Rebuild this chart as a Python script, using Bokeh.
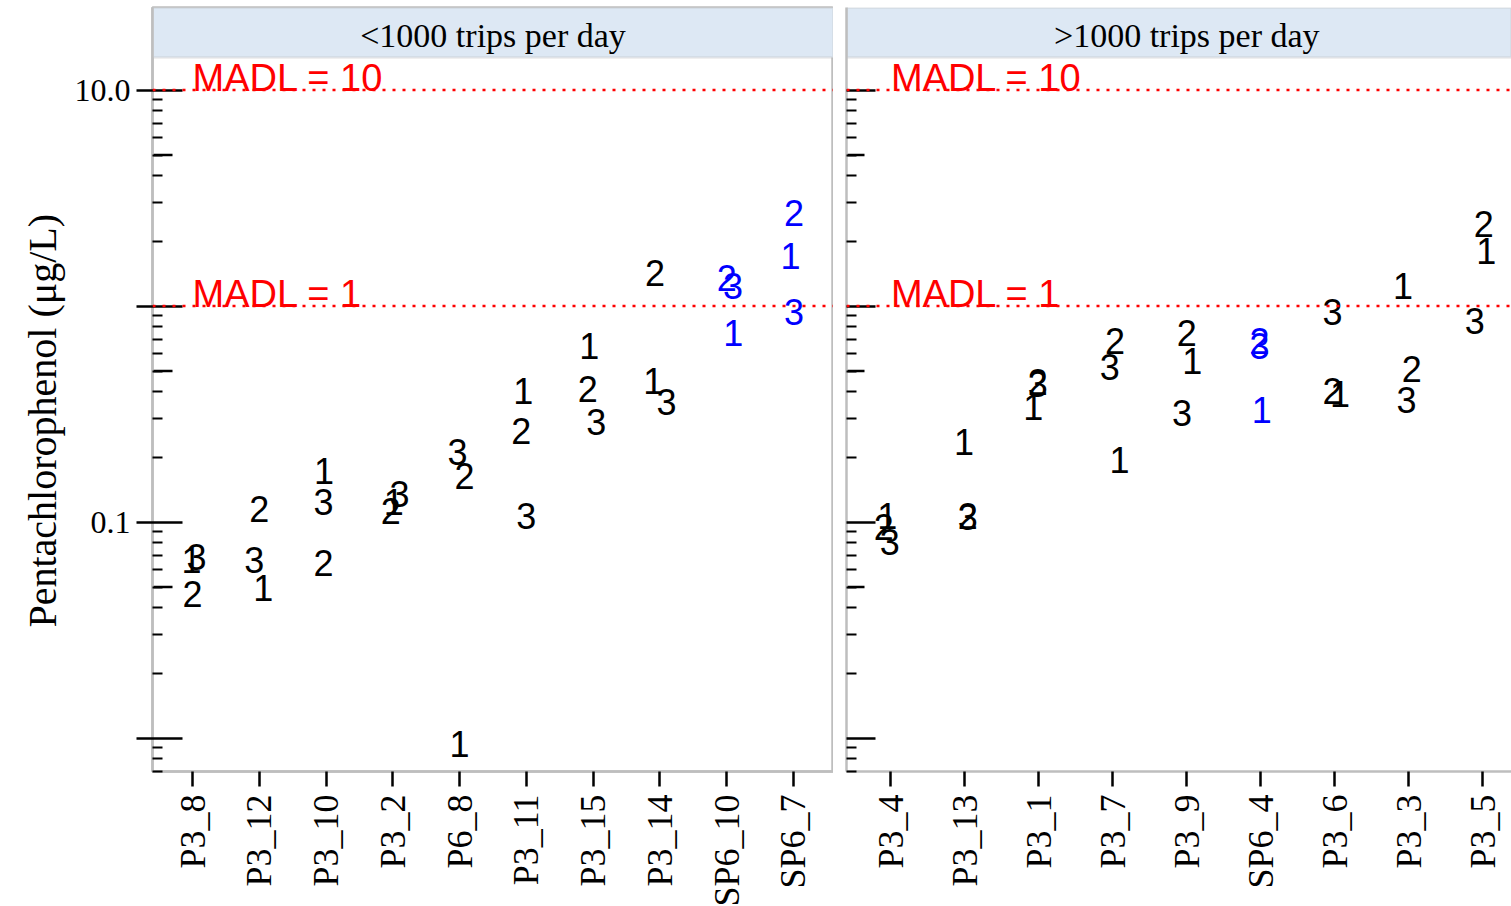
import math

from bokeh.core.properties import value
from bokeh.embed import file_html
from bokeh.layouts import row
from bokeh.models import BoxAnnotation, ColumnDataSource, FixedTicker, Range1d, Span, Title
from bokeh.plotting import figure
from bokeh.resources import INLINE

# Pentachlorophenol in runoff, three replicate samples per site (labelled 1, 2, 3)
strip_low = "<1000 trips per day"
strip_high = ">1000 trips per day"
y_title = "Pentachlorophenol (\u03bcg/L)"

samples_low = ["P3_8", "P3_12", "P3_10", "P3_2", "P6_8", "P3_11", "P3_15", "P3_14", "SP6_10", "SP6_7"]
rep1_low = [0.066, 0.049, 0.171, 0.122, 0.0093, 0.402, 0.649, 0.447, 0.746, 1.69]
rep2_low = [0.046, 0.114, 0.064, 0.111, 0.161, 0.262, 0.410, 1.40, 1.33, 2.68]
rep3_low = [0.068, 0.066, 0.122, 0.133, 0.208, 0.105, 0.286, 0.357, 1.22, 0.933]
jit1_low = [-0.015, 0.06, -0.03, 0.015, 0.0, -0.045, -0.06, -0.10, 0.10, -0.045]
jit2_low = [0.0, 0.0, -0.04, -0.03, 0.075, -0.075, -0.08, -0.075, 0.0, 0.01]
jit3_low = [0.06, -0.075, -0.04, 0.10, -0.03, 0.0, 0.045, 0.10, 0.095, 0.01]

samples_high = ["P3_4", "P3_13", "P3_1", "P3_7", "P3_9", "SP6_4", "P3_6", "P3_3", "P3_5"]
rep1_high = [0.106, 0.233, 0.339, 0.191, 0.548, 0.328, 0.389, 1.22, 1.77]
rep2_high = [0.094, 0.106, 0.44, 0.678, 0.746, 0.685, 0.398, 0.503, 2.36]
rep3_high = [0.080, 0.104, 0.43, 0.519, 0.318, 0.643, 0.933, 0.365, 0.839]
jit1_high = [-0.05, -0.01, -0.075, 0.09, 0.075, 0.015, 0.07, -0.075, 0.05]
jit2_high = [-0.095, 0.04, -0.015, 0.03, 0.0, -0.015, -0.03, 0.04, 0.015]
jit3_high = [-0.015, 0.04, -0.015, -0.04, -0.065, -0.015, -0.03, -0.03, -0.105]

highlight = ["SP6_10", "SP6_7", "SP6_4"]
madl_levels = [10, 1]

Y_LO, Y_HI = 0.0070, 24.1          # full frame, strip included
STRIP_BOTTOM = 14.14               # top of the data panel
GRAY = "#bebebe"
STRIP_FILL = "#dde8f4"
SERIF = "Liberation Serif"
SANS = "Liberation Sans"

decade_ticks = [0.01, 0.1, 1, 10]
minor_ticks = [m * d for d in (0.001, 0.01, 0.1, 1) for m in range(2, 10) if Y_LO <= m * d <= 10]
mid_ticks = [5 * d for d in (0.001, 0.01, 0.1, 1) if Y_LO <= 5 * d <= 10]


def panel(strip, samples, reps, jits, x_end, frame_width, border_left, first):
    n = len(samples)
    p = figure(
        y_axis_type="log",
        x_range=Range1d(-0.6, x_end),
        y_range=Range1d(Y_LO, Y_HI),
        frame_width=frame_width,
        frame_height=764,
        min_border_left=border_left,
        min_border_right=0,
        min_border_top=7,
        min_border_bottom=135,
        toolbar_location=None,
        output_backend="svg",
        background_fill_color="white",
        border_fill_color="white",
    )
    p.grid.grid_line_color = None
    if first:
        p.outline_line_color = GRAY
        p.outline_line_width = 2.5
        p.outline_line_alpha = 1.0
    else:
        p.outline_line_color = None

    # strip header
    p.add_layout(BoxAnnotation(bottom=STRIP_BOTTOM, fill_color=STRIP_FILL, fill_alpha=1.0,
                               line_color=GRAY, line_width=2.5, level="underlay"))
    p.text(x=[(n - 1) / 2], y=[math.sqrt(STRIP_BOTTOM * Y_HI)], text=[strip],
           text_font=value(SERIF), text_font_size="34px", text_color="black",
           text_align="center", text_baseline="middle", y_offset=3)

    # MADL reference lines
    for lvl in madl_levels:
        p.add_layout(Span(location=lvl, dimension="width", line_color="red",
                          line_width=2.5, line_dash="3 7"))
    p.text(x=[0] * len(madl_levels), y=madl_levels,
           text=[f"MADL = {v}" for v in madl_levels],
           text_font=value(SANS), text_font_size="38px", text_color="red",
           text_align="left", text_baseline="middle", y_offset=-12)

    # replicate numbers
    colors = ["#0000ff" if s in highlight else "#000000" for s in samples]
    for r, (vals, jit) in enumerate(zip(reps, jits), start=1):
        src = ColumnDataSource(dict(
            x=[i + j for i, j in enumerate(jit)],
            y=vals,
            label=[str(r)] * n,
            color=colors,
        ))
        p.text(x="x", y="y", text="label", text_color="color", source=src,
               text_font=value(SANS), text_font_size="36px",
               text_align="center", text_baseline="middle", y_offset=-1)

    # y axis
    ya = p.yaxis[0]
    ya.ticker = FixedTicker(ticks=decade_ticks, minor_ticks=minor_ticks)
    ya.axis_line_color = GRAY
    ya.axis_line_width = 2.5
    ya.major_tick_line_color = "black"
    ya.major_tick_line_width = 2.5
    ya.minor_tick_line_color = "black"
    ya.minor_tick_line_width = 2
    ya.minor_tick_in = 10
    ya.minor_tick_out = 0
    if first:
        ya.major_tick_in = 30
        ya.major_tick_out = 16
        ya.major_label_overrides = {10: "10.0", 1: "", 0.1: "0.1", 0.01: ""}
        ya.major_label_text_font = SERIF
        ya.major_label_text_font_size = "32px"
        ya.major_label_text_color = "black"
        ya.major_label_standoff = 6
        # axis title, started from the bottom so it centres on the data panel
        p.add_layout(Title(text=y_title, align="left", offset=144, standoff=14,
                           text_font=SERIF, text_font_size="40px",
                           text_font_style="normal", text_color="black"), "left")
        mid_len = 20
    else:
        ya.major_tick_in = 29
        ya.major_tick_out = 0
        ya.major_label_overrides = {t: "" for t in decade_ticks}
        ya.major_label_standoff = 0
        ya.major_label_text_font_size = "1px"
        mid_len = 18
    p.ray(x=[-0.6] * len(mid_ticks), y=mid_ticks, length=mid_len, length_units="screen",
          angle=0, line_color="black", line_width=2.5)

    # x axis
    xa = p.xaxis[0]
    xa.ticker = FixedTicker(ticks=list(range(n)))
    xa.major_label_overrides = {i: s for i, s in enumerate(samples)}
    xa.minor_tick_line_color = None
    xa.major_tick_in = 0
    xa.major_tick_out = 15
    xa.major_tick_line_color = "black"
    xa.major_tick_line_width = 2.5
    xa.axis_line_color = GRAY
    xa.axis_line_width = 2.5
    xa.major_label_orientation = math.pi / 2
    xa.major_label_text_font = SERIF
    xa.major_label_text_font_size = "36px"
    xa.major_label_text_color = "black"
    xa.major_label_standoff = 8
    return p


p_low = panel(strip_low, samples_low,
              [rep1_low, rep2_low, rep3_low], [jit1_low, jit2_low, jit3_low],
              x_end=9.6, frame_width=681, border_left=152, first=True)
p_high = panel(strip_high, samples_high,
               [rep1_high, rep2_high, rep3_high], [jit1_high, jit2_high, jit3_high],
               x_end=8.39, frame_width=665, border_left=13, first=False)

layout = row(p_low, p_high)
open("out.html", "w").write(file_html(layout, INLINE))
